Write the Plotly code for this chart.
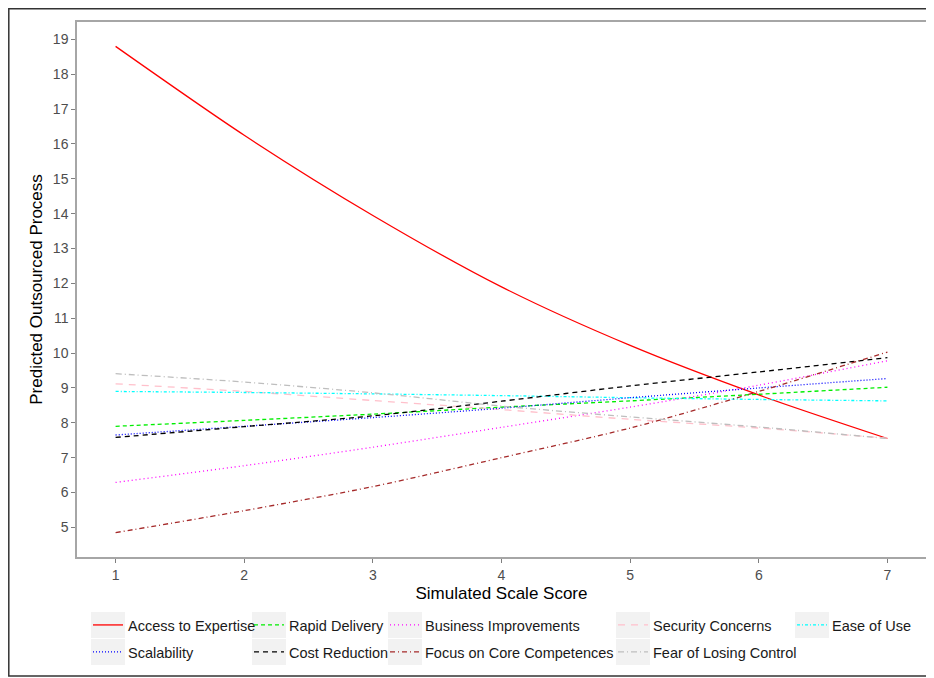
import plotly.graph_objects as go

# ---- data ----
scale_score = [1, 2, 3, 4, 5, 6, 7]

access_to_expertise = [18.80, 16.25, 13.95, 11.90, 10.22, 8.80, 7.55]
rapid_delivery = [7.90, 8.07, 8.25, 8.45, 8.63, 8.82, 9.02]
business_improvements = [6.29, 6.77, 7.30, 7.87, 8.45, 9.08, 9.78]
security_concerns = [9.12, 8.90, 8.64, 8.38, 8.10, 7.85, 7.56]
ease_of_use = [8.90, 8.87, 8.83, 8.78, 8.72, 8.67, 8.63]
scalability = [7.65, 7.90, 8.15, 8.42, 8.72, 9.00, 9.27]
cost_reduction = [7.58, 7.89, 8.20, 8.62, 9.06, 9.46, 9.87]
focus_on_core = [4.85, 5.48, 6.17, 7.00, 7.85, 8.90, 10.03]
fear_of_losing_control = [9.41, 9.17, 8.86, 8.48, 8.17, 7.88, 7.55]

series_names = ["Access to Expertise", "Rapid Delivery", "Business Improvements",
                "Security Concerns", "Ease of Use", "Scalability", "Cost Reduction",
                "Focus on Core Competences", "Fear of Losing Control"]
series_values = [access_to_expertise, rapid_delivery, business_improvements,
                 security_concerns, ease_of_use, scalability, cost_reduction,
                 focus_on_core, fear_of_losing_control]

x_ticks = [1, 2, 3, 4, 5, 6, 7]
y_ticks = list(range(5, 20))

# ---- styles ----
colors = ["#FF0000", "#00EE00", "#FF00FF", "#FFC0CB", "#00FFFF",
          "#0000FF", "#000000", "#A52A2A", "#BEBEBE"]
dashes = ["solid", "4px,3px", "1px,3px", "7px,6px", "3px,2px,1px,2px",
          "1px,2px", "5px,4px", "5px,3px,1px,3px", "6px,3px,1px,3px"]

FONT = "Liberation Sans, Arial, sans-serif"

# The page body has an 8px margin, so the figure is 8px smaller and all
# target page-pixel positions are shifted by OFF.
OFF = 8
FIG_W, FIG_H = 934 - OFF, 678 - OFF
# plot-area geometry in page pixels
L, R, T, B = 77, 926, 22, 557
W, H = R - L, B - T


def px_x(p):
    return (p - L) / W


def px_y(p):
    return (B - p) / H


# legend layout: text-start px per column, row-center px per row
col_text = [128, 289, 425, 653, 832]
row_c = [625, 652]
positions = [(0, 0), (1, 0), (2, 0), (3, 0), (4, 0),
             (0, 1), (1, 1), (2, 1), (3, 1)]

fig = go.Figure()
layout_legends = {}
shapes = []
for i, (name, vals) in enumerate(zip(series_names, series_values)):
    leg = "legend" if i == 0 else f"legend{i + 1}"
    fig.add_trace(go.Scatter(
        x=scale_score, y=vals, name=name, mode="lines",
        line=dict(color=colors[i], dash=dashes[i], width=1.3, shape="spline", smoothing=0.8),
        legend=leg, showlegend=True,
    ))
    c, r = positions[i]
    layout_legends[leg] = dict(
        x=px_x(col_text[c] - 40), xanchor="left",
        y=px_y(row_c[r]), yanchor="middle",
        bgcolor="rgba(0,0,0,0)", borderwidth=0,
        font=dict(family=FONT, size=14.5, color="#1a1a1a"),
        itemwidth=30,
    )
    # grey legend-key background
    shapes.append(dict(
        type="rect", xref="paper", yref="paper", layer="below",
        x0=px_x(col_text[c] - 37), x1=px_x(col_text[c] - 3),
        y0=px_y(row_c[r] + 13), y1=px_y(row_c[r] - 13),
        fillcolor="#F2F2F2", line=dict(width=0),
    ))

# outer dark frame
shapes.append(dict(
    type="rect", xref="paper", yref="paper", layer="above",
    x0=px_x(OFF + 0.8), x1=px_x(932), y0=px_y(676), y1=px_y(OFF + 0.8),
    fillcolor="rgba(0,0,0,0)", line=dict(color="#333333", width=1.5),
))

fig.update_layout(
    width=FIG_W, height=FIG_H,
    margin=dict(l=L - OFF, r=934 - R, t=T - OFF, b=678 - B, autoexpand=False),
    paper_bgcolor="white", plot_bgcolor="white",
    font=dict(family=FONT, color="#000000"),
    shapes=shapes,
    **layout_legends,
)

fig.update_xaxes(
    range=[0.7, 7.3], tickvals=x_ticks, ticktext=[str(v) for v in x_ticks],
    showgrid=False, zeroline=False,
    showline=True, mirror=True, linecolor="#A6A6A6", linewidth=1.5,
    ticks="outside", ticklen=4, tickcolor="#7F7F7F", tickwidth=1,
    tickfont=dict(size=14, color="#4D4D4D"),
    title=dict(text="Simulated Scale Score", font=dict(size=17, color="#000000"), standoff=6),
)
fig.update_yaxes(
    range=[4.15, 19.5], tickvals=y_ticks, ticktext=[str(v) for v in y_ticks],
    showgrid=False, zeroline=False,
    showline=True, mirror=True, linecolor="#A6A6A6", linewidth=1.5,
    ticks="outside", ticklen=4, tickcolor="#7F7F7F", tickwidth=1,
    tickfont=dict(size=14, color="#4D4D4D"),
    title=dict(text="Predicted Outsourced Process", font=dict(size=17, color="#000000"), standoff=6),
)

fig.write_html("out.html")
